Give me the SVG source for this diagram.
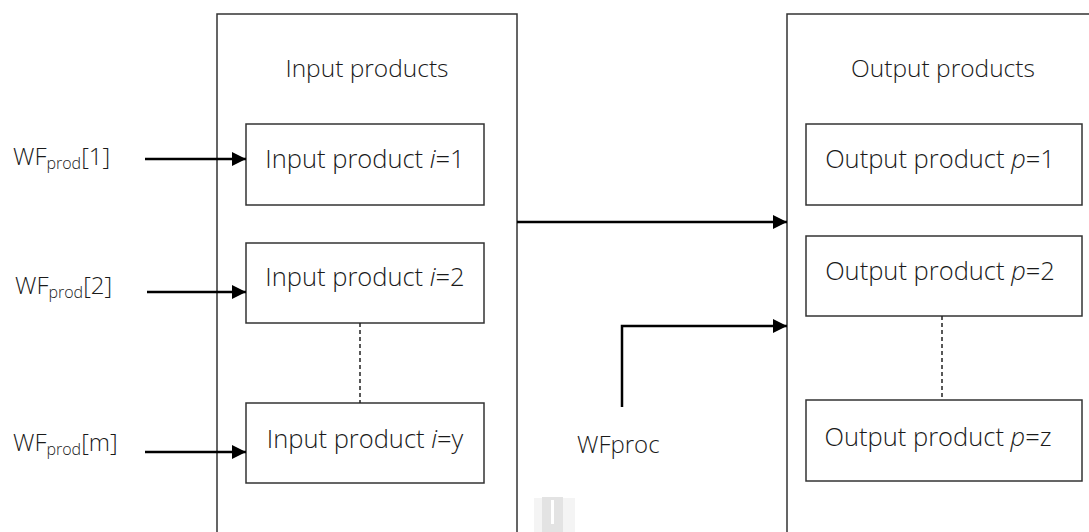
<svg xmlns="http://www.w3.org/2000/svg" width="1089" height="532" viewBox="0 0 1089 532">
  <style>
    .frame { fill: #ffffff; stroke: #333333; stroke-width: 1.5; }
    .box { fill: #ffffff; stroke: #333333; stroke-width: 1.5; }
    .dash { fill: none; stroke: #222222; stroke-width: 1.5; stroke-dasharray: 4 3; }
    .flow { fill: none; stroke: #000000; stroke-width: 2.5; marker-end: url(#head); }
    text { font-family: "Open Sans", "Noto Sans", sans-serif; font-weight: 300; fill: #1a1a1a; }
    .title { font-size: 24.5px; text-anchor: middle; }
    .item { font-size: 25.5px; text-anchor: middle; }
    .lbl { font-size: 24px; }
    .sub { font-size: 16px; }
    .it { font-style: italic; }
  </style>
  <defs>
    <marker id="head" viewBox="0 0 10 10" refX="10" refY="5" markerWidth="15" markerHeight="14" markerUnits="userSpaceOnUse" orient="auto">
      <path d="M0,0 L10,5 L0,10 Z" fill="#000000"/>
    </marker>
  </defs>

  <rect width="1089" height="532" fill="#ffffff"/>

  <!-- input side -->
  <g id="input-products">
    <rect class="frame" x="217" y="14" width="300" height="530"/>
    <text class="title" x="367" y="77">Input products</text>
  </g>
  <g id="input-1">
    <rect class="box" x="246" y="124" width="238" height="81"/>
    <text class="item" x="365" y="168">Input product <tspan class="it">i</tspan>=1</text>
  </g>
  <g id="input-2">
    <rect class="box" x="246" y="243" width="238" height="80"/>
    <text class="item" x="365" y="286">Input product <tspan class="it">i</tspan>=2</text>
  </g>
  <g id="input-y">
    <rect class="box" x="246" y="403" width="238" height="80"/>
    <text class="item" x="365" y="448">Input product <tspan class="it">i</tspan>=y</text>
  </g>

  <!-- output side -->
  <g id="output-products">
    <rect class="frame" x="787" y="14" width="310" height="530"/>
    <text class="title" x="943" y="77">Output products</text>
  </g>
  <g id="output-1">
    <rect class="box" x="806" y="124" width="276" height="81"/>
    <text class="item" x="940" y="168">Output product <tspan class="it">p</tspan>=1</text>
  </g>
  <g id="output-2">
    <rect class="box" x="806" y="236" width="276" height="80"/>
    <text class="item" x="940" y="280">Output product <tspan class="it">p</tspan>=2</text>
  </g>
  <g id="output-z">
    <rect class="box" x="806" y="400" width="276" height="81"/>
    <text class="item" x="938" y="446">Output product <tspan class="it">p</tspan>=z</text>
  </g>

  <!-- external water-footprint labels -->
  <g id="wf-prod-1">
    <text class="lbl" x="13" y="165">WF<tspan class="sub" dy="4">prod</tspan><tspan dy="-4">[1]</tspan></text>
  </g>
  <g id="wf-prod-2">
    <text class="lbl" x="15" y="294">WF<tspan class="sub" dy="4">prod</tspan><tspan dy="-4">[2]</tspan></text>
  </g>
  <g id="wf-prod-m">
    <text class="lbl" x="13" y="451">WF<tspan class="sub" dy="4">prod</tspan><tspan dy="-4">[m]</tspan></text>
  </g>
  <g id="wf-proc">
    <text class="lbl" x="577" y="453">WFproc</text>
  </g>

  <!-- connectors -->
  <g id="connectors">
    <line class="flow" x1="145" y1="159" x2="246" y2="159"/>
    <line class="flow" x1="147" y1="292" x2="246" y2="292"/>
    <line class="flow" x1="145" y1="452" x2="246" y2="452"/>
    <line class="flow" x1="517" y1="222" x2="787" y2="222"/>
    <polyline class="flow" points="622,407 622,326 787,326"/>
    <line class="dash" x1="360" y1="323" x2="360" y2="403"/>
    <line class="dash" x1="942" y1="316" x2="942" y2="400"/>
  </g>

  <!-- faint mark at the bottom edge -->
  <g id="mark">
    <rect x="534" y="498" width="41" height="34" fill="#f4f4f4"/>
    <rect x="542" y="497" width="21" height="35" fill="#e3e3e3"/>
    <rect x="551" y="500" width="3" height="24" fill="#ffffff"/>
  </g>
</svg>
